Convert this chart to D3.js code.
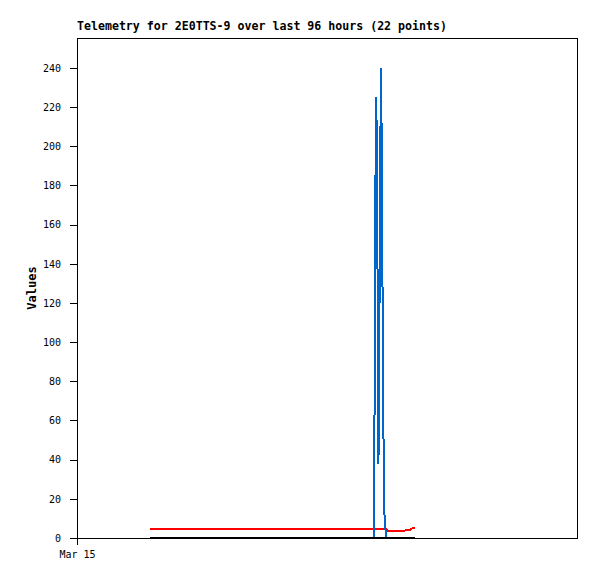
<!DOCTYPE html>
<html>
<head>
<meta charset="utf-8">
<script src="https://cdnjs.cloudflare.com/ajax/libs/d3/7.8.5/d3.min.js"></script>
<style>
  body { margin: 0; background: #fff; }
  .axis text { font-family: "DejaVu Sans Mono", monospace; font-size: 10px; fill: #000; }
  .axis path, .axis line { stroke: #000; shape-rendering: crispEdges; }
</style>
</head>
<body>
<div class="chart"></div>
<script>
// telemetry samples (22 points)
const times = [
  '2024-03-15T14:01', '2024-03-17T08:56', '2024-03-17T09:07', '2024-03-17T09:15',
  '2024-03-17T09:28', '2024-03-17T09:36', '2024-03-17T09:45', '2024-03-17T09:52',
  '2024-03-17T09:59', '2024-03-17T10:11', '2024-03-17T10:22', '2024-03-17T10:34',
  '2024-03-17T10:45', '2024-03-17T11:02', '2024-03-17T11:20', '2024-03-17T11:31',
  '2024-03-17T13:04', '2024-03-17T14:47', '2024-03-17T15:33', '2024-03-17T15:56',
  '2024-03-17T16:19', '2024-03-17T16:54'
]
const redValues = [4.8, 4.8, 4.8, 4.8, 4.8, 4.8, 4.8, 4.8, 4.8, 4.8, 4.8,
                   4.8, 4.8, 4.8, 4.8, 3.7, 3.7, 3.7, 4.2, 4.2, 4.9, 4.9]
const blueValues = [0, 0, 56, 168, 225, 187, 112, 38, 60, 180, 240,
                    184, 72, 12, 0, 0, 0, 0, 0, 0, 0, 0]
const blackValues = [0, 0, 0, 0, 0, 0, 0, 0, 0, 0, 0,
                     0, 0, 0, 0, 0, 0, 0, 0, 0, 0, 0]
const yTicks = [0, 20, 40, 60, 80, 100, 120, 140, 160, 180, 200, 220, 240]
const xRange = ['2024-03-15T00:00', '2024-03-19T00:00']
const xTicks = ['2024-03-15T00:00']

const parse = d3.timeParse('%Y-%m-%dT%H:%M')

const margin = {top: 38, right: 20, bottom: 41, left: 77}
const width = 597 - margin.left - margin.right
const height = 579 - margin.top - margin.bottom

const svg = d3.select('.chart')
  .append('svg')
  .attr('width', 597)
  .attr('height', 579)

const g = svg.append('g')
  .attr('transform', 'translate(' + margin.left + ',' + margin.top + ')')

const xScale = d3.scaleTime()
  .domain(xRange.map(parse))
  .range([0, width])

const yScale = d3.scaleLinear()
  .domain([0, 255.3])
  .range([height, 0])

// axes
g.append('g')
  .attr('class', 'axis')
  .call(d3.axisLeft(yScale).tickValues(yTicks).tickSize(7).tickPadding(9).tickSizeOuter(0))

g.append('g')
  .attr('class', 'axis')
  .attr('transform', 'translate(0,' + height + ')')
  .call(d3.axisBottom(xScale)
    .tickValues(xTicks.map(parse))
    .tickFormat(d3.timeFormat('%b %d'))
    .tickSize(7).tickPadding(6).tickSizeOuter(0))

// frame
g.append('rect')
  .attr('x', 0.5)
  .attr('y', 0.5)
  .attr('width', width)
  .attr('height', height)
  .attr('fill', 'none')
  .attr('stroke', '#000')
  .attr('shape-rendering', 'crispEdges')

// series
const series = [
  {values: redValues, color: '#ff0000'},
  {values: blueValues, color: '#0066cc'},
  {values: blackValues, color: '#000000'}
]

const line = d3.line()
  .x(d => xScale(d.t))
  .y(d => yScale(d.v))

series.forEach(s => {
  const pts = times.map((t, i) => ({t: parse(t), v: s.values[i]}))
  g.append('path')
    .datum(pts)
    .attr('fill', 'none')
    .attr('stroke', s.color)
    .attr('stroke-width', 2)
    .attr('shape-rendering', 'crispEdges')
    .attr('d', line)
})

// title
svg.append('text')
  .attr('x', 77)
  .attr('y', 30)
  .attr('font-family', '"DejaVu Sans Mono", monospace')
  .attr('font-weight', 'bold')
  .attr('font-size', '11.6px')
  .text('Telemetry for 2E0TTS-9 over last 96 hours (22 points)')

// y label
svg.append('text')
  .attr('transform', 'translate(36,' + (margin.top + height / 2) + ') rotate(-90)')
  .attr('text-anchor', 'middle')
  .attr('font-family', '"DejaVu Sans Mono", monospace')
  .attr('font-weight', 'bold')
  .attr('font-size', '12px')
  .text('Values')
</script>
</body>
</html>
